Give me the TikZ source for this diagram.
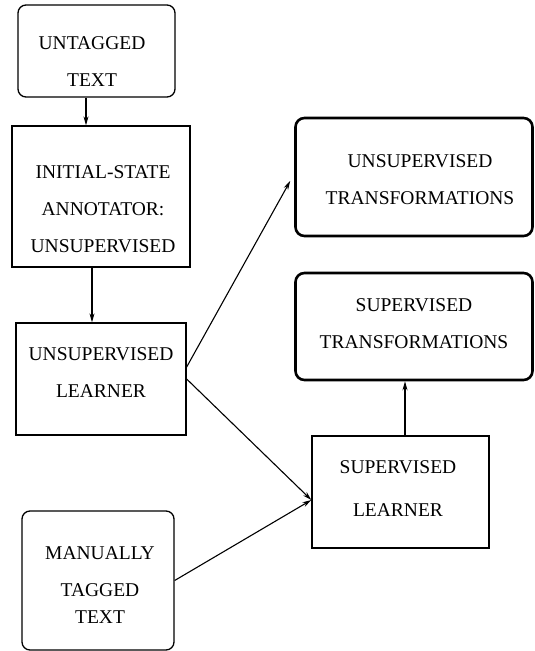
\documentclass[tikz,border=0pt]{standalone}
\usepackage{fontspec}
\setmainfont{Liberation Serif}
\newfontfamily\tmsfont{Liberation Serif}
\usetikzlibrary{arrows.meta}
\begin{document}
\begin{tikzpicture}[x=1pt,y=-1pt,
  box/.style={draw, line width=1.3pt, inner sep=0pt},
  rbox/.style={box, rounded corners=8pt},
  tbox/.style={draw, line width=2.6pt, rounded corners=9pt, inner sep=0pt},
  lbl/.style={align=center, inner sep=0pt, font=\tmsfont\fontsize{19.5}{37}\selectfont},
  arr/.style={line width=1.1pt, -{Stealth[length=9pt,width=5pt]}}]
\useasboundingbox (0,0) rectangle (535,651);
% boxes
\node[rbox, minimum width=157pt, minimum height=92pt] (ut) at (96.5,51) {};
\node[box, minimum width=178pt, minimum height=141pt] (isa) at (101,196.5) {};
\node[box, minimum width=170pt, minimum height=112pt] (ul) at (101,379) {};
\node[rbox, minimum width=152pt, minimum height=139pt] (mt) at (98,580.5) {};
\node[tbox, minimum width=237pt, minimum height=118pt] (utr) at (414,177) {};
\node[tbox, minimum width=237pt, minimum height=107pt] (str) at (414,326.5) {};
\node[box, minimum width=177pt, minimum height=112pt] (sl) at (400.5,492) {};
% texts
\node[lbl] (utT) at (92,61.5) {UNTAGGED\\TEXT};
\node[lbl] (isaT) at (103,209) {INITIAL-STATE\\ANNOTATOR:\\UNSUPERVISED};
\node[lbl] (ulT) at (101,372.5) {UNSUPERVISED\\LEARNER};
\node[lbl] (mtT) at (100,585) {MANUALLY\\TAGGED\\[-10pt]TEXT};
\node[lbl] (utrT) at (420,180) {UNSUPERVISED\\TRANSFORMATIONS};
\node[lbl] (strT) at (414,324) {SUPERVISED\\TRANSFORMATIONS};
\node[lbl, font=\tmsfont\fontsize{19.5}{43}\selectfont] (slT) at (398,488.5) {SUPERVISED\\LEARNER};
% connectors
\draw[arr] ([xshift=-10.5pt]ut.south) -- ([xshift=-10.5pt]ut.south |- isa.north);
\draw[arr] ([xshift=-9pt]isa.south) -- ([xshift=-9pt]isa.south |- ul.north);
\draw[arr] ([yshift=12pt]ul.east) -- ([xshift=-4pt,yshift=-4pt]utr.west);
\draw[arr] (ul.east) -- ([yshift=-8pt]sl.west);
\draw[arr] (mt.east) -- ([yshift=-8pt]sl.west);
\draw[arr] ([xshift=4.5pt]sl.north) -- ([xshift=4.5pt]sl.north |- str.south);
\end{tikzpicture}
\end{document}
